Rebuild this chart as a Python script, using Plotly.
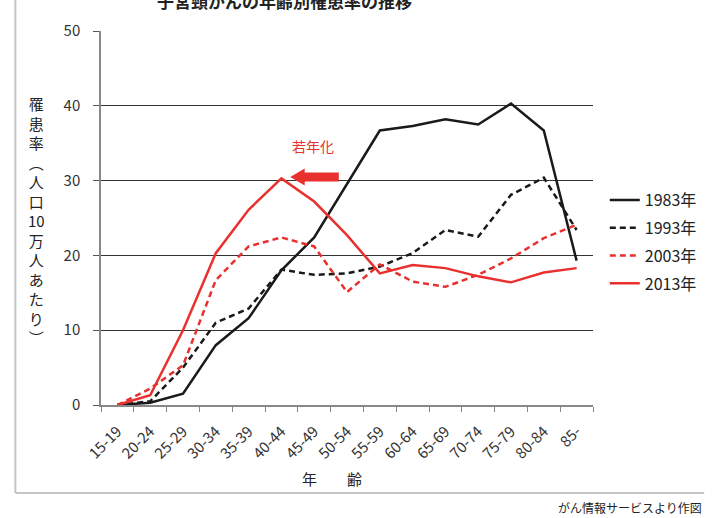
import plotly.graph_objects as go

ages = ["15-19", "20-24", "25-29", "30-34", "35-39", "40-44", "45-49", "50-54",
        "55-59", "60-64", "65-69", "70-74", "75-79", "80-84", "85-"]
y1983 = [0.0, 0.3, 1.5, 8.0, 11.6, 18.0, 22.4, 29.5, 36.7, 37.3, 38.2, 37.5, 40.3, 36.7, 19.3]
y1993 = [0.0, 0.5, 5.0, 11.0, 12.9, 18.1, 17.4, 17.6, 18.5, 20.3, 23.4, 22.5, 28.1, 30.4, 23.4]
y2003 = [0.0, 2.2, 5.3, 16.7, 21.2, 22.4, 21.2, 15.1, 18.8, 16.5, 15.8, 17.4, 19.6, 22.3, 24.1]
y2013 = [0.0, 1.3, 10.0, 20.3, 26.1, 30.3, 27.2, 22.7, 17.6, 18.7, 18.3, 17.2, 16.4, 17.7, 18.3]
series_names = ["1983年", "1993年", "2003年", "2013年"]
y_ticks = [0, 10, 20, 30, 40, 50]

FONT = "Noto Sans CJK JP"
BLACK = "#1a1a1a"
RED = "#e8312f"

fig = go.Figure()
styles = [(y1983, BLACK, "solid"), (y1993, BLACK, "6px,4px"),
          (y2003, RED, "6px,4px"), (y2013, RED, "solid")]
for i, (vals, col, dash) in enumerate(styles):
    fig.add_trace(go.Scatter(x=ages, y=vals, mode="lines", name=series_names[i],
                             legendgroup=str(i),
                             line=dict(color=col, width=2.5, dash=dash)))

W, H = 714, 518
L, R, T, B = 101, 113, 31, 113
pw, ph = W - L - R, H - T - B

def px(xp):
    return (xp - L) / pw

def py(yp):
    return (H - B - yp) / ph

fig.update_layout(
    width=W, height=H,
    margin=dict(l=L, r=R, t=T, b=B),
    paper_bgcolor="white", plot_bgcolor="white",
    font=dict(family=FONT, color="#222"),
    showlegend=True,
    legend=dict(x=px(613), y=py(183), xanchor="left", yanchor="top",
                font=dict(size=16, family=FONT, color="#222"),
                tracegroupgap=4, traceorder="grouped",
                bgcolor="rgba(0,0,0,0)"),
    xaxis=dict(type="category", range=[-0.5, 14.5], showgrid=False,
               showline=True, linecolor="#888", linewidth=1.5,
               ticks="outside", tickson="boundaries", ticklen=5, tickcolor="#888",
               tickangle=-45, tickfont=dict(size=15, family=FONT, color="#333"),
               ticklabelstandoff=10),
    yaxis=dict(range=[0, 50], tickvals=y_ticks, showgrid=True, gridcolor="#333",
               gridwidth=1, zeroline=False,
               showline=True, linecolor="#888", linewidth=1.5,
               ticks="outside", ticklen=6, tickcolor="#555",
               tickfont=dict(size=15, family=FONT, color="#333"),
               ticklabelstandoff=10),
)

# title (cut off at top, as in the reference)
fig.add_annotation(text="<b>子宮頸がんの年齢別罹患率の推移</b>", xref="paper", yref="paper",
                   x=px(287), y=py(15), xanchor="center", yanchor="bottom",
                   showarrow=False, font=dict(size=17, family=FONT, color="#222"))
# y-axis title (vertical)
ytitle_chars = ["罹", "患", "率", "︵", "人", "口", "10", "万", "人", "あ", "た", "り", "︶"]
fig.add_annotation(text="<br>".join(ytitle_chars), xref="paper", yref="paper",
                   x=px(35), y=py(220), xanchor="center", yanchor="middle",
                   showarrow=False, font=dict(size=15, family=FONT, color="#222"))
# x-axis title
fig.add_annotation(text="年　　齢", xref="paper", yref="paper",
                   x=px(336), y=py(478), xanchor="center", yanchor="middle",
                   showarrow=False, font=dict(size=15, family=FONT, color="#222"))
# footer
fig.add_annotation(text="がん情報サービスより作図", xref="paper", yref="paper",
                   x=px(563), y=py(507), xanchor="left", yanchor="middle",
                   showarrow=False, font=dict(size=12, family=FONT, color="#222"))
# 若年化 label
fig.add_annotation(text="若年化", xref="paper", yref="paper",
                   x=px(316), y=py(146), xanchor="center", yanchor="middle",
                   showarrow=False, font=dict(size=14, family=FONT, color=RED))

# arrow (decoration) in data units
tip_x, head_x, tail_x, ay = 5.27, 5.71, 6.75, 30.48
hh, hs = 1.14, 0.6
path = (f"M {tip_x},{ay} L {head_x},{ay+hh} L {head_x},{ay+hs} L {tail_x},{ay+hs} "
        f"L {tail_x},{ay-hs} L {head_x},{ay-hs} L {head_x},{ay-hh} Z")
fig.add_shape(type="path", path=path, xref="x", yref="y",
              fillcolor=RED, line=dict(color=RED, width=0))

# outer frame lines
fig.add_shape(type="line", xref="paper", yref="paper", x0=px(14), x1=px(14),
              y0=py(0), y1=py(493), line=dict(color="#c4c4c4", width=2))
fig.add_shape(type="line", xref="paper", yref="paper", x0=px(14), x1=px(714),
              y0=py(493), y1=py(493), line=dict(color="#c4c4c4", width=2))

fig.write_html("out.html")
